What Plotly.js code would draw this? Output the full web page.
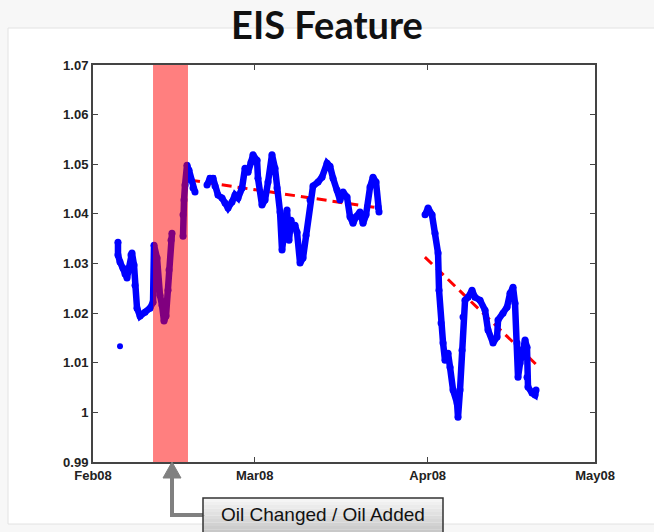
<!DOCTYPE html>
<html>
<head>
<meta charset="utf-8">
<script src="https://cdn.plot.ly/plotly-3.0.1.min.js"></script>
<style>html,body{margin:0;padding:0;background:#f7f7f7;}#chart{width:654px;height:532px;}</style>
</head>
<body>
<div id="chart"></div>
<script>
// Days since 2008-02-01 and EIS feature values; null = gap
const eisDays = [4.48,4.48,4.84,5.38,5.74,6.10,6.45,6.81,6.99,7.35,7.53,7.89,8.43,9.32,10.22,10.76,
  10.94,11.48,11.65,12.01,12.37,12.73,13.09,13.45,13.63,13.99,14.16,null,
  16.14,16.14,16.32,16.50,16.85,17.21,17.57,17.93,18.29,null,
  20.44,20.98,21.52,21.87,22.41,23.13,23.67,24.21,24.92,25.46,26.00,26.72,27.25,27.79,28.33,28.69,29.41,29.58,
  30.30,30.84,31.38,32.09,32.63,32.99,33.53,33.89,34.07,34.43,34.78,35.14,35.50,35.86,36.22,36.58,37.12,37.65,
  38.19,38.91,39.45,40.34,41.06,41.96,42.49,43.03,43.75,44.29,44.83,45.54,46.08,46.62,47.16,47.87,48.41,48.95,
  49.67,50.20,50.74,51.10,51.28,null,
  59.53,60.07,60.78,61.32,61.86,62.04,62.40,62.76,63.11,63.65,64.01,64.55,65.27,65.44,65.80,66.16,66.34,66.70,
  67.24,67.95,68.49,69.39,70.29,70.82,71.72,72.44,72.62,73.51,74.23,74.77,75.31,75.66,76.02,76.20,76.56,77.10,
  77.46,77.81,77.81,77.99,78.71,79.25,79.43];
const eisValues = [1.0343,1.0317,1.0303,1.0291,1.0279,1.0271,1.0291,1.0317,1.0321,1.0297,1.0256,1.0210,1.0194,1.0202,1.0210,1.0222,
  1.0337,1.0311,1.0267,1.0236,1.0216,1.0184,1.0194,1.0246,1.0287,1.0347,1.0361,null,
  1.0355,1.0398,1.0428,1.0458,1.0498,1.0488,1.0468,1.0452,1.0444,null,
  1.0458,1.0472,1.0472,1.0456,1.0438,1.0432,1.0422,1.0412,1.0424,1.0438,1.0432,1.0452,1.0492,1.0484,1.0504,1.0519,1.0508,1.0472,
  1.0418,1.0428,1.0464,1.0519,1.0492,1.0452,1.0404,1.0327,1.0347,1.0367,1.0408,1.0347,1.0387,1.0371,1.0377,1.0363,1.0301,1.0311,
  1.0357,1.0428,1.0456,1.0464,1.0474,1.0502,1.0496,1.0472,1.0448,1.0428,1.0444,1.0434,1.0394,1.0381,1.0394,1.0404,1.0381,1.0398,
  1.0454,1.0474,1.0464,1.0414,1.0404,null,
  1.0398,1.0412,1.0398,1.0361,1.0321,1.0246,1.0180,1.0140,1.0105,1.0119,1.0091,1.0045,1.0019,0.9990,1.0045,1.0125,1.0192,1.0226,
  1.0232,1.0246,1.0232,1.0226,1.0206,1.0166,1.0140,1.0152,1.0186,1.0200,1.0212,1.0240,1.0252,1.0220,1.0140,1.0071,1.0099,1.0125,
  1.0146,1.0131,1.0071,1.0051,1.0039,1.0035,1.0045];
// isolated early reading
const outlierDays = [4.84];
const outlierValues = [1.0133];
// trend lines
const trend1Days = [17.4, 51.1];
const trend1Values = [1.0468, 1.0412];
const trend2Days = [59.5, 79.6];
const trend2Values = [1.0313, 1.0095];
// oil change window
const oilWindowDays = [10.76, 17.03];
const xRangeDays = [0, 90];
const yTickVals = [0.99,1.00,1.01,1.02,1.03,1.04,1.05,1.06,1.07];
const yTickText = ['0.99','1','1.01','1.02','1.03','1.04','1.05','1.06','1.07'];
const titleText = 'EIS Feature';
const calloutText = 'Oil Changed / Oil Added';

function toDate(d){
  if (d === null) return null;
  const t = new Date(Date.UTC(2008,1,1) + d*86400000);
  return t.toISOString().slice(0,19).replace('T',' ');
}

const traces = [
  {x: trend1Days.map(toDate), y: trend1Values, type:'scatter', mode:'lines',
   line:{color:'#ff0000', width:3, dash:'10px,6px'}},
  {x: trend2Days.map(toDate), y: trend2Values, type:'scatter', mode:'lines',
   line:{color:'#ff0000', width:3, dash:'10px,6px'}},
  {x: eisDays.map(toDate), y: eisValues, type:'scatter', mode:'lines+markers',
   line:{color:'#0000ff', width:6.5}, marker:{color:'#0000ff', size:7}, connectgaps:false},
  {x: outlierDays.map(toDate), y: outlierValues, type:'scatter', mode:'markers',
   marker:{color:'#0000ff', size:6}}
];

const L=93, R=595, T=65, B=462;
const W=R-L, H=B-T;
const px=(x)=>(x-L)/W, py=(y)=>(B-y)/H;

const shapes = [
  // white panel
  {type:'rect', xref:'paper', yref:'paper', x0:px(8), x1:px(660), y0:py(524), y1:py(28),
   fillcolor:'#ffffff', line:{color:'#e2e2e2', width:1}, layer:'below'},
  // oil change window
  {type:'rect', xref:'x', yref:'paper', x0:toDate(oilWindowDays[0]), x1:toDate(oilWindowDays[1]), y0:0, y1:1,
   fillcolor:'rgba(255,0,0,0.5)', line:{width:0}, layer:'above'},
  // arrow shaft
  {type:'path', xref:'paper', yref:'paper',
   path:`M ${px(205)} ${py(515)} L ${px(172)} ${py(515)} L ${px(172)} ${py(476)}`,
   line:{color:'#808080', width:4}, layer:'above'},
  // arrow head
  {type:'path', xref:'paper', yref:'paper',
   path:`M ${px(163)} ${py(478)} L ${px(181)} ${py(478)} L ${px(172)} ${py(462)} Z`,
   fillcolor:'#808080', line:{color:'#808080', width:1}, layer:'above'}
];
// callout box with a vertical light-to-grey gradient
const boxTop=498, boxBot=540, nBands=12;
for (let i=0;i<nBands;i++){
  const y0 = boxTop + (boxBot-boxTop)*i/nBands, y1 = boxTop + (boxBot-boxTop)*(i+1)/nBands;
  const g = Math.round(245 - 55*i/(nBands-1));
  shapes.push({type:'rect', xref:'paper', yref:'paper', x0:px(203), x1:px(443), y0:py(y1), y1:py(y0),
    fillcolor:`rgb(${g},${g},${g})`, line:{width:0}, layer:'above'});
}
shapes.push({type:'rect', xref:'paper', yref:'paper', x0:px(203), x1:px(443), y0:py(boxBot), y1:py(boxTop),
  fillcolor:'rgba(0,0,0,0)', line:{color:'#333333', width:1.5}, layer:'above'});

const tickFont = {family:'Liberation Sans, Arial, sans-serif', size:13, color:'#222222', weight:'bold'};

const layout = {
  width:654, height:532,
  paper_bgcolor:'#f7f7f7', plot_bgcolor:'#ffffff',
  margin:{l:L, r:654-R, t:T, b:532-B, pad:0},
  showlegend:false,
  title:{text:titleText, xref:'container', x:0.5, xanchor:'center', yref:'container', y:1-26/532, yanchor:'middle',
    font:{family:'Lato, Noto Sans, sans-serif', size:38, color:'#111111', weight:'bold'}},
  xaxis:{type:'date', range:xRangeDays.map(toDate), tick0:'2008-02-01', dtick:'M1', tickformat:'%b%y',
    showgrid:false, zeroline:false, showline:true, linecolor:'#444444', linewidth:2, mirror:'ticks',
    ticks:'inside', ticklen:5, tickwidth:1, tickcolor:'#444444', tickfont:tickFont},
  yaxis:{range:[0.99,1.07], tickvals:yTickVals, ticktext:yTickText,
    showgrid:false, zeroline:false, showline:true, linecolor:'#444444', linewidth:2, mirror:'ticks',
    ticks:'inside', ticklen:5, tickwidth:1, tickcolor:'#444444', tickfont:tickFont},
  shapes:shapes,
  annotations:[
    {text:calloutText, xref:'paper', yref:'paper', x:px(323), y:py(514), xanchor:'center', yanchor:'middle',
     showarrow:false, font:{family:'Liberation Sans, Arial, sans-serif', size:19, color:'#111111'}}
  ]
};

Plotly.newPlot('chart', traces, layout, {staticPlot:true, displayModeBar:false});
</script>
</body>
</html>
